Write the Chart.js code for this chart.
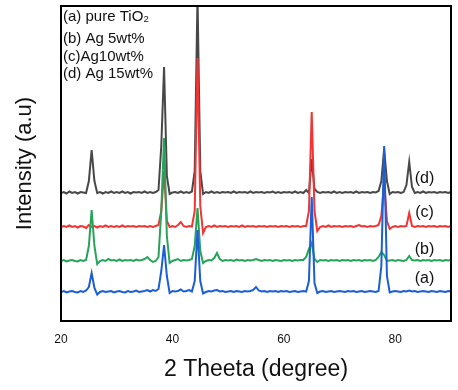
<!DOCTYPE html>
<html>
<head>
<meta charset="utf-8">
<script src="https://cdn.jsdelivr.net/npm/chart.js@4.4.1/dist/chart.umd.min.js"></script>
<style>
html,body{margin:0;padding:0;background:#fff;}
#wrap{width:458px;height:390px;}
</style>
</head>
<body>
<div id="wrap"><canvas id="c" width="458" height="390"></canvas></div>
<script>
// 2θ positions (degree)
const theta = [
20,20.5,21,21.5,22,22.5,23,23.5,24,24.5,25,25.5,26,26.5,27,27.5,28,28.5,29,29.5,
30,30.5,31,31.5,32,32.5,33,33.5,34,34.5,35,35.5,36,36.5,37,37.5,38,38.5,39,39.5,
40,40.5,41,41.5,42,42.5,43,43.5,44,44.5,45,45.5,46,46.5,47,47.5,48,48.5,49,49.5,
50,50.5,51,51.5,52,52.5,53,53.5,54,54.5,55,55.5,56,56.5,57,57.5,58,58.5,59,59.5,
60,60.5,61,61.5,62,62.5,63,63.5,64,64.5,65,65.5,66,66.5,67,67.5,68,68.5,69,69.5,
70,70.5,71,71.5,72,72.5,73,73.5,74,74.5,75,75.5,76,76.5,77,77.5,78,78.5,79,79.5,
80,80.5,81,81.5,82,82.5,83,83.5,84,84.5,85,85.5,86,86.5,87,87.5,88,88.5,89,89.5,90];

// (a) pure TiO2 (offset intensity, a.u.)
const seriesA = [
29,30,28.5,29.5,30,29,28.5,30,29,30.5,34,48,33,26.5,29,30,29,29.5,30,28.5,
29.5,30,29,28.5,30,29,29.5,30.5,29,29.5,30,31,29.5,31,30,32,50,76,45,28,
30,29.5,30,31.5,29.5,30,31,29.5,40,91,40,27.5,29,30,29.5,30.5,31,29.5,30,29,
29.5,30,29,30,29.5,29,30,29.5,30,31,34,30.5,29.5,30,29,30,29.5,30,29,30,
29.5,30,29,29.5,30,29,29.5,30,29.5,40,124,38,28,29.5,30,29,29.5,30,29,29.5,
30,29.5,29,30,29.5,30,29,29.5,30,29,29.5,30,29.5,29,30,55,175,45,28.5,29.5,
30,29.5,29,30,29.5,30.5,29.5,30,29,29.5,30,29.5,29,30,29.5,29,30,29.5,29,30,29.5];

// (b) Ag 5wt%
const seriesB = [
60,61,59.5,60.5,61,60,59.5,61,60,61,75,111,75,57,60,61,60,62,60.5,61,
60,61.5,60,61,60.5,61,60,61.5,60.5,61,62,64,61,59,60,64,110,183,85,58,
60,61,62,60,61,60.5,61,62,75,113,70,58,60,61,60.5,63,68,62,60,61,
60.5,61,60,61.5,60.5,61,60,61,60.5,61,62,61,60,61,60.5,61,60,61,60.5,60,
61,60.5,61,60,61,60.5,61,61,64,72,78,62,59,61,60.5,61,60,61,60.5,61,
60,61,60.5,61,60,61,60.5,61,60,61,60.5,61,60,61,64,69,66,60,60.5,61,
60,61,60.5,60,61,65,61,60.5,61,60,61,60.5,61,60,61,60.5,61,60,61,60.5,61];

// (c) Ag 10wt%
const seriesC = [
94,95,94,95.5,94,95,93.5,95,94.5,93,96,94,95,93.5,95,94,95.5,94,95,94,
95,94,95.5,94,95,94.5,95,94,95,94.5,95,94,95,94,95,96,110,150,100,94,
95,94,96,99,95,94,95,94.5,110,263,115,88,94,95,94,95.5,94,95,94.5,95,
94,95,94.5,95,94,95.5,94,95,94.5,95,94,95,94.5,95,94,95,94.5,95,94,95,
94.5,95,94,95,94.5,95,94,95,95,110,209,110,90,94,95,94,95.5,94,95,94.5,
95,94,95,94.5,95,94,95,96,94.5,95,94,95,94.5,95,96,105,140,100,92,94,
95,94,95,94.5,95,108,95,94,95,94.5,95,94,95,94.5,95,94,95,94.5,95,94,95];

// (d) Ag 15wt%
const seriesD = [
128,129,127.5,129.5,128,129,127.5,129,128.5,128,140,171,140,128,129,127.5,129,128,129.5,128,
129,128,129.5,128,129,127.5,129,128.5,129,128,129.5,128,129,128,129,131,175,254,145,127,
128.5,129,128,129.5,128,129,128,129.5,150,325,150,127,129,128,129.5,128,129,128,129,128.5,
129,128,129.5,128,129,128.5,129,128,129.5,128,129,128.5,129,128,129,128.5,129.5,128,129,128,
129,128.5,129,128,129.5,128,129,128,131,128,162,132,129,128,129,128.5,129,128,129.5,128,
129,128,129,128.5,129,128,129.5,128,129,128.5,129,128,129,128.5,130,140,172,140,127,129,
128.5,129,128,129,136,159,134,128,129,128,129.5,128,129,128.5,129,128,129,128.5,129,128,129];

const legendLines = ['(a) pure TiO\u2082', '(b) Ag 5wt%', '(c)Ag10wt%', '(d) Ag 15wt%'];
const seriesLabels = ['(a)', '(b)', '(c)', '(d)'];
const tickLabels = [20, 40, 60, 80];
const xTitle = '2 Theeta (degree)';
const yTitle = 'Intensity (a.u)';

const colors = ['rgb(28,94,214)', 'rgb(39,163,90)', 'rgb(242,52,52)', 'rgb(72,72,72)'];
const seriesList = [seriesA, seriesB, seriesC, seriesD];
const labelY = [279, 250, 213, 179];
const legendY = [16.5, 38.5, 56.5, 73.5];

const datasets = seriesList.map((s, k) => ({
  label: seriesLabels[k],
  data: theta.map((t, i) => ({x: t, y: s[i]})),
  borderColor: colors[k],
  backgroundColor: colors[k],
  borderWidth: 2,
  pointRadius: 0,
  tension: 0,
  fill: false
}));

const FONT = '"Liberation Sans", Arial, sans-serif';

const decor = {
  id: 'decor',
  afterDraw(chart) {
    const {ctx, chartArea: a} = chart;
    ctx.save();
    ctx.strokeStyle = '#000';
    ctx.lineWidth = 2;
    ctx.strokeRect(a.left, a.top, a.right - a.left, a.bottom - a.top);
    ctx.fillStyle = '#111';
    ctx.textBaseline = 'middle';
    ctx.textAlign = 'left';
    ctx.font = '15px ' + FONT;
    legendLines.forEach((t, i) => ctx.fillText(t, a.left + 2, legendY[i]));
    ctx.textAlign = 'center';
    ctx.font = '16px ' + FONT;
    seriesLabels.forEach((t, i) => ctx.fillText(t, 424.5, labelY[i]));
    ctx.restore();
  }
};

new Chart(document.getElementById('c'), {
  type: 'line',
  data: {datasets},
  options: {
    responsive: false,
    animation: false,
    devicePixelRatio: 1,
    layout: {padding: {top: 6, right: 7, left: 0, bottom: 0}},
    plugins: {legend: {display: false}, tooltip: {enabled: false}},
    scales: {
      x: {
        type: 'linear', min: 20, max: 90,
        afterBuildTicks: s => { s.ticks = tickLabels.map(v => ({value: v})); },
        afterFit: s => { s.height = 69; },
        grid: {display: false, drawTicks: false},
        border: {display: false},
        ticks: {padding: 11, color: '#111', font: {family: FONT, size: 12}, maxRotation: 0},
        title: {display: true, text: xTitle, color: '#111', font: {family: FONT, size: 23}, padding: {top: 0, bottom: 7}}
      },
      y: {
        type: 'linear', min: 0, max: 315,
        afterFit: s => { s.width = 61; },
        grid: {display: false, drawTicks: false},
        border: {display: false},
        ticks: {display: false},
        title: {display: true, text: yTitle, color: '#111', font: {family: FONT, size: 22}, padding: {top: 12, bottom: 0}}
      }
    }
  },
  plugins: [decor]
});
</script>
</body>
</html>
